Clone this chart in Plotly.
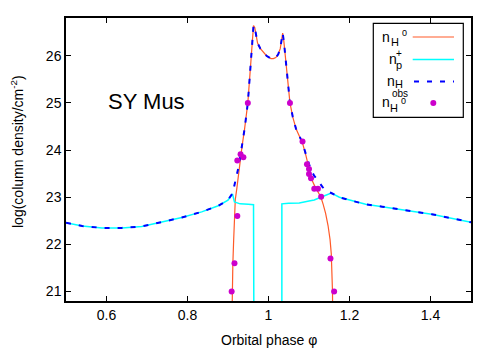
import plotly.graph_objects as go

# ---- data ----
# neutral hydrogen column n_H0 (two branches around the eclipse)
h0_x = [0.909, 0.910, 0.912, 0.914, 0.916, 0.918, 0.922, 0.926, 0.930, 0.935, 0.941, 0.949, 0.955, 0.960, 0.963,
        0.966, 0.969, 0.973, 0.980, 0.986, 0.995, 1.006, 1.012, 1.018, 1.024, 1.029, 1.033, 1.035, 1.038, 1.041,
        1.046, 1.053, 1.060, 1.068, 1.076, 1.084, 1.092, 1.100, 1.107, 1.115, 1.122, 1.129, 1.135, 1.141, 1.147,
        1.152, 1.155, 1.157, 1.158, 1.159]
h0_y = [20.0, 21.2, 21.6, 22.1, 22.6, 22.95, 23.2, 23.5, 23.8, 24.1, 24.45, 25.0, 25.7, 26.3, 26.64,
        26.6, 26.45, 26.27, 26.15, 26.08, 26.0, 25.94, 25.94, 25.96, 26.03, 26.15, 26.4, 26.48, 26.3, 26.06,
        25.55, 25.0, 24.7, 24.45, 24.3, 24.15, 23.9, 23.6, 23.37, 23.22, 23.12, 23.01, 22.85, 22.66, 22.4,
        22.1, 21.8, 21.4, 21.0, 20.0]

# ionised hydrogen column n_p+ (left part, gap, right part)
p_left_x = [0.500, 0.540, 0.589, 0.638, 0.687, 0.737, 0.786, 0.835, 0.876, 0.900, 0.911, 0.916, 0.930, 0.950, 0.963, 0.964]
p_left_y = [22.46, 22.39, 22.35, 22.35, 22.38, 22.47, 22.57, 22.69, 22.82, 22.94, 23.07, 22.90, 22.86, 22.85, 22.84, 20.0]
p_right_x = [1.033, 1.033, 1.050, 1.076, 1.100, 1.113, 1.129, 1.149, 1.155, 1.175, 1.199, 1.240, 1.281, 1.321,
             1.362, 1.403, 1.444, 1.500]
p_right_y = [20.0, 22.86, 22.87, 22.88, 22.92, 22.94, 23.0, 23.06, 23.09, 23.0, 22.94, 22.85, 22.80, 22.74,
             22.69, 22.64, 22.57, 22.47]

# total hydrogen column n_H
tot_x = [0.500, 0.540, 0.589, 0.638, 0.687, 0.737, 0.786, 0.835, 0.876, 0.900, 0.911, 0.916, 0.920, 0.925,
         0.930, 0.935, 0.941, 0.949, 0.955, 0.960, 0.963, 0.966, 0.969, 0.973, 0.980, 0.986, 0.995, 1.006,
         1.012, 1.018, 1.024, 1.029, 1.033, 1.035, 1.038, 1.041, 1.046, 1.053, 1.060, 1.068, 1.076, 1.084,
         1.092, 1.104, 1.113, 1.121, 1.133, 1.145, 1.155, 1.175, 1.199, 1.240, 1.281, 1.321, 1.362, 1.403,
         1.444, 1.500]
tot_y = [22.46, 22.39, 22.35, 22.35, 22.38, 22.47, 22.57, 22.69, 22.82, 22.94, 23.08, 23.26, 23.4, 23.6,
         23.85, 24.1, 24.45, 25.0, 25.7, 26.3, 26.64, 26.6, 26.45, 26.27, 26.15, 26.08, 26.0, 25.94,
         25.94, 25.96, 26.03, 26.15, 26.4, 26.48, 26.3, 26.06, 25.55, 25.0, 24.7, 24.45, 24.3, 24.15,
         23.92, 23.6, 23.45, 23.37, 23.22, 23.12, 23.09, 23.0, 22.94, 22.85, 22.80, 22.74, 22.69, 22.64,
         22.57, 22.47]

# observed n_H0 values
obs_x = [0.909, 0.916, 0.923, 0.923, 0.931, 0.938, 0.949, 1.053, 1.084, 1.095, 1.100, 1.100, 1.105, 1.113,
         1.122, 1.130, 1.153, 1.162]
obs_y = [21.0, 21.6, 22.6, 23.78, 23.91, 23.85, 25.0, 25.0, 24.18, 23.70, 23.60, 23.49, 23.40, 23.18,
         23.18, 23.01, 21.7, 21.0]

x_ticks = [0.6, 0.8, 1.0, 1.2, 1.4]
x_ticktext = ["0.6", "0.8", "1", "1.2", "1.4"]
y_ticks = [21, 22, 23, 24, 25, 26]

ORANGE = "#ff5a28"
CYAN = "#00ffff"
BLUE = "#0000ff"
MAGENTA = "#cc00cc"
FONT = "Liberation Sans"
DASH = "5px,8px"

# the page body adds an 8px offset, so the figure is 8px smaller than the window
W, H = 492, 342
ML, MR, MT, MB = 58, 29, 10, 49
PW, PH = W - ML - MR, H - MT - MB
OFF = 8


def px(xp):
    # window pixel -> paper x
    return (xp - OFF - ML) / PW


def py(yp):
    # window pixel -> paper y
    return (H - MB - (yp - OFF)) / PH


fig = go.Figure()
fig.add_trace(go.Scatter(x=h0_x, y=h0_y, mode="lines", line=dict(color=ORANGE, width=1.2), showlegend=False))
fig.add_trace(go.Scatter(x=p_left_x + [None] + p_right_x, y=p_left_y + [None] + p_right_y, mode="lines",
                         line=dict(color=CYAN, width=1.5), connectgaps=False, showlegend=False))
fig.add_trace(go.Scatter(x=tot_x, y=tot_y, mode="lines",
                         line=dict(color=BLUE, width=2, dash=DASH), showlegend=False))
fig.add_trace(go.Scatter(x=obs_x, y=obs_y, mode="markers",
                         marker=dict(color=MAGENTA, size=6, line=dict(width=0)), showlegend=False))

axis_common = dict(showline=True, linecolor="black", linewidth=1.5, mirror="allticks", ticks="inside",
                   ticklen=5, tickcolor="black", tickwidth=1.2, showgrid=False, zeroline=False,
                   automargin=False, tickfont=dict(family=FONT, size=14, color="black"))
fig.update_xaxes(range=[0.5, 1.5], tickvals=x_ticks, ticktext=x_ticktext, **axis_common)
fig.update_yaxes(range=[20.8, 26.8], tickvals=y_ticks, **axis_common)

# manual gnuplot-style key
shapes = [dict(type="rect", xref="paper", yref="paper", x0=px(373.3), x1=px(463.3), y0=py(117.3), y1=py(23.3),
               line=dict(color="black", width=1.2), fillcolor="white", layer="above")]
rows = [37.0, 59.5, 81.5, 103.0]
lx0, lx1 = px(412.7), px(454)
shapes.append(dict(type="line", xref="paper", yref="paper", x0=lx0, x1=lx1, y0=py(rows[0]), y1=py(rows[0]),
                   line=dict(color=ORANGE, width=1.2), layer="above"))
shapes.append(dict(type="line", xref="paper", yref="paper", x0=lx0, x1=lx1, y0=py(rows[1]), y1=py(rows[1]),
                   line=dict(color=CYAN, width=1.5), layer="above"))
shapes.append(dict(type="line", xref="paper", yref="paper", x0=px(414), x1=lx1, y0=py(rows[2]), y1=py(rows[2]),
                   line=dict(color=BLUE, width=2, dash=DASH), layer="above"))
cx, cy = 433.3, rows[3]
shapes.append(dict(type="circle", xref="paper", yref="paper", x0=px(cx - 3), x1=px(cx + 3),
                   y0=py(cy + 3), y1=py(cy - 3), line=dict(width=0), fillcolor=MAGENTA, layer="above"))


def txt(s, xc, yc, size, anchor="center", angle=0):
    return dict(text=s, x=px(xc), y=py(yc), xref="paper", yref="paper", xanchor=anchor, yanchor="middle",
                showarrow=False, textangle=angle, font=dict(family=FONT, size=size, color="black"))


annotations = [
    # row 1: n_{H^0}
    txt("n", 385.5, 36.5, 14), txt("H", 394.7, 41.5, 11), txt("0", 404.4, 33.5, 9),
    # row 2: n_p^+
    txt("n", 393.0, 58.8, 14), txt("+", 398.5, 53.0, 10), txt("p", 399.0, 65.5, 11),
    # row 3: n_H
    txt("n", 391.3, 80.5, 14), txt("H", 399.2, 84.2, 11),
    # row 4: n_{H^0}^{obs}
    txt("n", 385.5, 102.3, 14), txt("H", 394.3, 107.5, 11), txt("0", 403.6, 101.0, 9),
    txt("obs", 399.7, 93.3, 10),
    # panel label
    txt("SY Mus", 146.7, 101.7, 22),
    # axis titles
    txt("Orbital phase φ", 268.5, 340.0, 14),
    txt("log(column density/cm<sup>-2</sup>)", 17.0, 152.0, 14, angle=-90),
]

fig.update_layout(width=W, height=H, margin=dict(l=ML, r=MR, t=MT, b=MB),
                  paper_bgcolor="white", plot_bgcolor="white", shapes=shapes, annotations=annotations,
                  font=dict(family=FONT, size=14, color="black"))

fig.write_html("out.html")
